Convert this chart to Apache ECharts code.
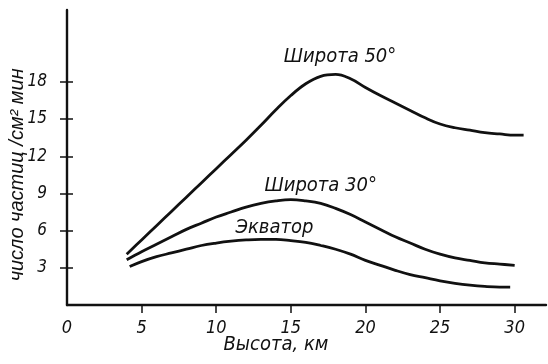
<!DOCTYPE html>
<html><head><meta charset="utf-8">
<script src="https://cdn.jsdelivr.net/npm/echarts@6/dist/echarts.min.js"></script>
<style>html,body{margin:0;padding:0;background:#fff}#c{width:548px;height:364px}</style>
</head><body><div id="c"></div>
<script>
// Altitude (km) and particle counts (particles / cm^2 min)
const alt50 = [4,5,6,7,8,9,10,11,12,13,14,15,16,17,18,19,20,21,22,23,24,25,26,27,28,29,30,30.6];
const lat50 = [4.1,5.25,6.4,7.55,8.7,9.85,11.0,12.15,13.3,14.5,15.75,16.9,17.85,18.45,18.6,18.25,17.55,16.9,16.3,15.7,15.1,14.6,14.3,14.1,13.9,13.8,13.7,13.7];
const alt30 = [4,5,6,7,8,9,10,11,12,13,14,15,16,17,18,19,20,21,22,23,24,25,26,27,28,29,30];
const lat30 = [3.65,4.3,4.9,5.5,6.1,6.6,7.1,7.5,7.9,8.2,8.4,8.5,8.4,8.2,7.8,7.3,6.7,6.1,5.5,5.0,4.5,4.1,3.8,3.6,3.4,3.3,3.2];
const altEq = [4.2,5,6,7,8,9,10,11,12,13,14,15,16,17,18,19,20,21,22,23,24,25,26,27,28,29,29.7];
const latEq = [3.1,3.5,3.9,4.2,4.5,4.8,5.0,5.15,5.25,5.3,5.3,5.2,5.05,4.8,4.5,4.1,3.6,3.2,2.8,2.45,2.2,1.95,1.75,1.6,1.5,1.45,1.45];
const xTickLabels = [0,5,10,15,20,25,30];
const xTicks = [5,10,15,20,25,30];
const yTicks = [3,6,9,12,15,18];
const seriesNames = ['Широта 50°','Широта 30°','Экватор'];
const labelPos = [[18.3,20.0],[17.0,9.6],[13.9,6.2]];
const xTitle = 'Высота, км';
const xTitleAt = 14;
const yTitle = 'число частиц /см² мин';
const yTitleAt = 10.5;

const FONT = '"Liberation Sans Narrow", "DejaVu Sans Condensed", sans-serif';
const FONT_WIDE = '"Liberation Sans", sans-serif';
const ink = '#111';
const pair = (xs, ys) => xs.map((x,i)=>[x, ys[i]]);

const chart = echarts.init(document.getElementById('c'), null, {renderer:'canvas'});
const baseX = {type:'value', min:0, max:32.1, splitLine:{show:false}};
const baseY = {type:'value', min:0, max:23.8, splitLine:{show:false}};
const lineSeries = (name, data) => ({
  name, type:'line', data, smooth:0.4, symbol:'none',
  lineStyle:{color:ink, width:2.8}, z:3
});
chart.setOption({
  animation:false,
  grid:{left:67, right:2, top:10, bottom:59},
  xAxis:[
    Object.assign({}, baseX, {
      axisLine:{lineStyle:{color:ink, width:2.4}},
      axisTick:{show:true, length:8, inside:false, customValues:xTicks, lineStyle:{color:ink, width:1.5}},
      axisLabel:{customValues:xTickLabels, color:ink, fontFamily:FONT, fontStyle:'italic', fontSize:18, margin:14}
    }),
    Object.assign({}, baseX, {
      axisLine:{show:false},
      axisTick:{show:true, length:6, inside:true, customValues:xTicks, lineStyle:{color:ink, width:1.5}},
      axisLabel:{show:false}
    })
  ],
  yAxis:[
    Object.assign({}, baseY, {
      axisLine:{lineStyle:{color:ink, width:2.4}},
      axisTick:{show:true, length:7, inside:false, customValues:yTicks, lineStyle:{color:ink, width:1.5}},
      axisLabel:{customValues:yTicks, color:ink, fontFamily:FONT, fontStyle:'italic', fontSize:17, margin:20}
    }),
    Object.assign({}, baseY, {
      position:'left',
      axisLine:{show:false},
      axisTick:{show:true, length:6, inside:true, customValues:yTicks, lineStyle:{color:ink, width:1.5}},
      axisLabel:{show:false}
    })
  ],
  series:[
    lineSeries(seriesNames[0], pair(alt50, lat50)),
    lineSeries(seriesNames[1], pair(alt30, lat30)),
    lineSeries(seriesNames[2], pair(altEq, latEq))
  ]
});
const px = v => chart.convertToPixel({gridIndex:0}, v);
const g = labelPos.map((p,i)=>{
  const q = px(p);
  return {type:'text', x:q[0], y:q[1], z:10, style:{text:seriesNames[i], align:'center', verticalAlign:'middle',
    fill:ink, font:'italic 20px '+FONT}};
});
const xt = px([xTitleAt, 0]);
g.push({type:'text', x:xt[0], y:345, style:{text:xTitle, align:'center', verticalAlign:'middle',
  fill:ink, font:'italic 20px '+FONT}});
const yt = px([0, yTitleAt]);
g.push({type:'text', rotation:Math.PI/2, x:17, y:yt[1], style:{text:yTitle, align:'center', verticalAlign:'middle',
  fill:ink, font:'italic 20px '+FONT_WIDE}});
chart.setOption({graphic:g});
</script></body></html>
